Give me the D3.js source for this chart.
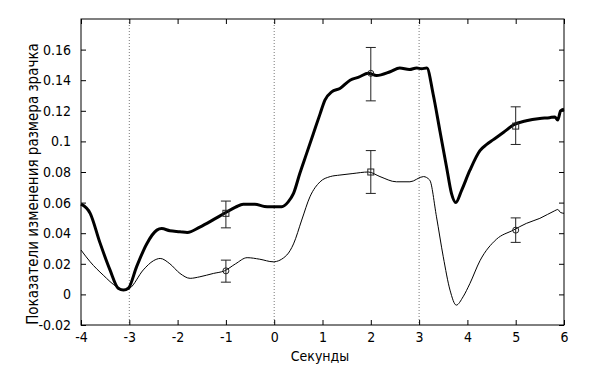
<!DOCTYPE html>
<html>
<head>
<meta charset="utf-8">
<script src="https://cdn.jsdelivr.net/npm/d3@7"></script>
<style>
  body { margin: 0; background: #fff; }
  text { font-family: "Liberation Sans Narrow", "DejaVu Sans Condensed", sans-serif; fill: #000; }
</style>
</head>
<body>
<div id="chart"></div>
<script>
// time (s) and two pupil-size curves
const timeThick = [-4, -3.81, -3.61, -3.4, -3.23, -3.12, -3.02, -2.85, -2.64, -2.43, -2.33, -2.16, -1.95, -1.8, -1.54, -1.25, -1.03, -0.8, -0.64, -0.4, -0.2, -0.09, 0.155, 0.29, 0.4, 0.53, 0.67, 0.81, 0.95, 1.05, 1.19, 1.36, 1.57, 1.75, 1.95, 2.12, 2.4, 2.6, 2.8, 2.95, 3.05, 3.16, 3.29, 3.43, 3.57, 3.67, 3.76, 3.88, 4.05, 4.26, 4.4, 4.53, 4.75, 4.95, 5.22, 5.5, 5.7, 5.81, 5.87, 5.93, 6];
const thick = [0.059, 0.053, 0.034, 0.016, 0.004, 0.0028, 0.004, 0.018, 0.033, 0.042, 0.043, 0.0416, 0.041, 0.0405, 0.044, 0.049, 0.053, 0.057, 0.059, 0.059, 0.0575, 0.0573, 0.0573, 0.0605, 0.066, 0.079, 0.092, 0.105, 0.118, 0.127, 0.1324, 0.1346, 0.14, 0.142, 0.1445, 0.143, 0.1455, 0.148, 0.147, 0.148, 0.1475, 0.148, 0.131, 0.107, 0.083, 0.066, 0.060, 0.068, 0.081, 0.094, 0.098, 0.101, 0.106, 0.1107, 0.1135, 0.115, 0.1155, 0.116, 0.114, 0.120, 0.121];

const timeThin = [-4, -3.81, -3.54, -3.26, -3.09, -2.99, -2.71, -2.5, -2.36, -2.16, -1.95, -1.74, -1.54, -1.26, -1.03, -0.8, -0.56, -0.3, -0.02, 0.26, 0.4, 0.57, 0.74, 0.95, 1.16, 1.36, 1.63, 1.95, 2.19, 2.53, 2.81, 3.09, 3.22, 3.36, 3.5, 3.64, 3.77, 3.91, 4.05, 4.26, 4.6, 4.95, 5.22, 5.5, 5.81, 5.87, 5.93, 6];
const thin = [0.029, 0.0213, 0.0126, 0.005, 0.0028, 0.004, 0.016, 0.022, 0.0235, 0.020, 0.0137, 0.0105, 0.0115, 0.0137, 0.0154, 0.02, 0.024, 0.023, 0.0213, 0.0257, 0.033, 0.0486, 0.0638, 0.0736, 0.077, 0.078, 0.079, 0.08, 0.077, 0.0736, 0.0736, 0.077, 0.0747, 0.0507, 0.0246, 0.0028, -0.007, -0.0016, 0.007, 0.022, 0.036, 0.042, 0.0464, 0.0497, 0.0547, 0.0555, 0.0535, 0.053];

// error bars: x, mean, low, high
const errX = [-1, 2, 5];
const thickMean = [0.053, 0.1445, 0.110];
const thickLow = [0.0435, 0.1265, 0.098];
const thickHigh = [0.061, 0.1614, 0.1226];
const thinMean = [0.0154, 0.080, 0.042];
const thinLow = [0.008, 0.066, 0.034];
const thinHigh = [0.0224, 0.094, 0.050];

const xTicks = [-4, -3, -2, -1, 0, 1, 2, 3, 4, 5, 6];
const yTicks = [-0.02, 0, 0.02, 0.04, 0.06, 0.08, 0.1, 0.12, 0.14, 0.16];
const eventLines = [-3, 0, 3];

const width = 600, height = 370;
const margin = { top: 19, right: 36, bottom: 45, left: 81 };
const w = width - margin.left - margin.right;
const h = height - margin.top - margin.bottom;

const x = d3.scaleLinear().domain([-4, 6]).range([0, w]);
const y = d3.scaleLinear().domain([-0.02, 0.18]).range([h, 0]);

const svg = d3.select('#chart').append('svg')
  .attr('width', width)
  .attr('height', height);

const g = svg.append('g')
  .attr('transform', 'translate(' + margin.left + ',' + margin.top + ')');

// dotted event markers
g.selectAll('.event').data(eventLines).enter().append('line')
  .attr('x1', d => x(d)).attr('x2', d => x(d))
  .attr('y1', 0).attr('y2', h)
  .attr('stroke', '#777').attr('stroke-width', 1)
  .attr('stroke-dasharray', '1,2');

const fmt = d => d === 0 ? '0' : String(+d.toFixed(2));

// axes with inward ticks, MATLAB style
g.append('g').attr('transform', 'translate(0,' + h + ')')
  .call(d3.axisBottom(x).tickValues(xTicks).tickSizeInner(-5).tickSizeOuter(0).tickPadding(7).tickFormat(fmt));
g.append('g')
  .call(d3.axisTop(x).tickValues(xTicks).tickSizeInner(-5).tickSizeOuter(0).tickFormat(''));
g.append('g')
  .call(d3.axisLeft(y).tickValues(yTicks).tickSizeInner(-5).tickSizeOuter(0).tickPadding(10).tickFormat(fmt));
g.append('g').attr('transform', 'translate(' + w + ',0)')
  .call(d3.axisRight(y).tickValues(yTicks).tickSizeInner(-5).tickSizeOuter(0).tickFormat(''));

g.selectAll('.domain').remove();
g.selectAll('.tick line').attr('stroke', '#000');
g.selectAll('.tick text').attr('font-size', 14);

g.append('rect')
  .attr('width', w).attr('height', h)
  .attr('fill', 'none').attr('stroke', '#000').attr('stroke-width', 1);

const line = d3.line()
  .x(d => x(d[0]))
  .y(d => y(d[1]))
  .curve(d3.curveMonotoneX);

g.append('path')
  .datum(d3.zip(timeThin, thin))
  .attr('d', line)
  .attr('fill', 'none').attr('stroke', '#000').attr('stroke-width', 1);

g.append('path')
  .datum(d3.zip(timeThick, thick))
  .attr('d', line)
  .attr('fill', 'none').attr('stroke', '#000').attr('stroke-width', 3)
  .attr('stroke-linejoin', 'round');

function errorBars(mean, low, high, shape) {
  const eb = g.append('g');
  errX.forEach((t, i) => {
    const cx = x(t);
    eb.append('line').attr('x1', cx).attr('x2', cx).attr('y1', y(low[i])).attr('y2', y(high[i]));
    eb.append('line').attr('x1', cx - 5).attr('x2', cx + 5).attr('y1', y(low[i])).attr('y2', y(low[i]));
    eb.append('line').attr('x1', cx - 5).attr('x2', cx + 5).attr('y1', y(high[i])).attr('y2', y(high[i]));
    if (shape[i] === 's') {
      eb.append('rect').attr('x', cx - 3).attr('y', y(mean[i]) - 3).attr('width', 6).attr('height', 6)
        .attr('fill', 'none');
    } else {
      eb.append('circle').attr('cx', cx).attr('cy', y(mean[i])).attr('r', 3).attr('fill', 'none');
    }
  });
  eb.selectAll('line, rect, circle').attr('stroke', '#222').attr('stroke-width', 1);
}
errorBars(thickMean, thickLow, thickHigh, ['s', 'c', 's']);
errorBars(thinMean, thinLow, thinHigh, ['c', 's', 'c']);

svg.append('text')
  .attr('x', 320).attr('y', 361)
  .attr('text-anchor', 'middle').attr('font-size', 14)
  .text('Секунды');

svg.append('text')
  .attr('transform', 'translate(38,184) rotate(-90)')
  .attr('text-anchor', 'middle').attr('font-size', 15)
  .text('Показатели изменения размера зрачка');
</script>
</body>
</html>
